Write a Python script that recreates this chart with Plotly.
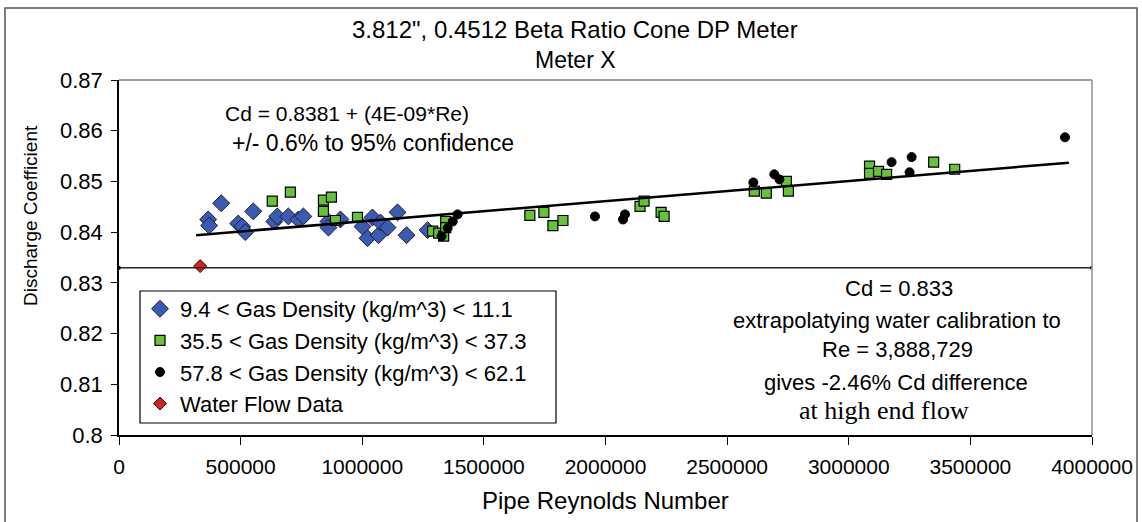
import plotly.graph_objects as go

# ---- data ----
blue_re = [366600, 370700, 420200, 490200, 506700, 519000, 552000, 638500, 650900,
           696200, 737400, 758000, 861000, 861000, 910400, 1001000, 1021600, 1042000,
           1067000, 1075000, 1104000, 1145000, 1182000, 1268800]
blue_cd = [0.8425, 0.8413, 0.8457, 0.8417, 0.8411, 0.8400, 0.8441, 0.8421, 0.8431,
           0.8431, 0.8425, 0.8431, 0.8421, 0.8409, 0.8425, 0.8411, 0.8388, 0.8429,
           0.8394, 0.8419, 0.8409, 0.8439, 0.8394, 0.8404]

green_re = [630000, 704400, 840400, 873300, 840400, 889800, 980400, 1289400, 1314000,
            1334700, 1343000, 1343000, 1689000, 1746700, 1783700, 1825000, 2142000,
            2158600, 2228600, 2241000, 2611800, 2661000, 2743600, 2751800, 3085500,
            3085500, 3122500, 3155500, 3349000, 3435600]
green_cd = [0.8461, 0.8479, 0.8463, 0.8469, 0.8441, 0.8423, 0.8429, 0.8402, 0.8398,
            0.8392, 0.8421, 0.8409, 0.8433, 0.8439, 0.8413, 0.8423, 0.8451,
            0.8461, 0.8439, 0.8431, 0.8481, 0.8477, 0.8500, 0.8481, 0.8530,
            0.8516, 0.8520, 0.8514, 0.8538, 0.8524]

black_re = [1326000, 1351000, 1372000, 1392000, 1956700, 2072000, 2080000, 2607700,
            2694000, 2715000, 3176000, 3258500, 3250000, 3889000]
black_cd = [0.8392, 0.8408, 0.8421, 0.8435, 0.8431, 0.8425, 0.8435, 0.8498,
            0.8514, 0.8504, 0.8538, 0.8548, 0.8518, 0.8587]

water_re = [333700]
water_cd = [0.8333]

trend_re = [317000, 3905000]
trend_cd = [0.8394, 0.8537]

water_line_re = [0, 4000000]
water_line_cd = [0.833, 0.833]

x_ticks = [0, 500000, 1000000, 1500000, 2000000, 2500000, 3000000, 3500000, 4000000]
y_ticks = [0.80, 0.81, 0.82, 0.83, 0.84, 0.85, 0.86, 0.87]
y_tick_text = ["0.8", "0.81", "0.82", "0.83", "0.84", "0.85", "0.86", "0.87"]

series_names = [
    "9.4 < Gas Density (kg/m^3) < 11.1",
    "35.5 < Gas Density (kg/m^3) < 37.3",
    "57.8 < Gas Density (kg/m^3) < 62.1",
    "Water Flow Data",
]

FONT = "Liberation Sans, Arial, sans-serif"
SERIF = "Liberation Serif, Times New Roman, serif"

# plot area in pixels
L, R, T, B = 119, 1092, 80, 435
PW, PH = R - L, B - T


def px(x):
    return (x - L) / PW


def py(y):
    return (B - y) / PH


fig = go.Figure()

fig.add_trace(go.Scatter(
    x=blue_re, y=blue_cd, mode="markers", name=series_names[0], legendgroup="a",
    marker=dict(symbol="diamond", size=13, color="#3A5BB0",
                line=dict(color="#1a1a3a", width=1))))
fig.add_trace(go.Scatter(
    x=green_re, y=green_cd, mode="markers", name=series_names[1], legendgroup="b",
    marker=dict(symbol="square", size=10, color="#66C23A",
                line=dict(color="#000000", width=1.2))))
fig.add_trace(go.Scatter(
    x=black_re, y=black_cd, mode="markers", name=series_names[2], legendgroup="c",
    marker=dict(symbol="circle", size=9, color="#000000",
                line=dict(color="#000000", width=1))))
fig.add_trace(go.Scatter(
    x=water_re, y=water_cd, mode="markers", name=series_names[3], legendgroup="d",
    marker=dict(symbol="diamond", size=10, color="#D42020",
                line=dict(color="#3a0000", width=1))))

fig.add_trace(go.Scatter(
    x=trend_re, y=trend_cd, mode="lines", showlegend=False, hoverinfo="skip",
    line=dict(color="#000000", width=2.5)))
fig.add_trace(go.Scatter(
    x=water_line_re, y=water_line_cd, mode="lines+markers", showlegend=False,
    hoverinfo="skip", line=dict(color="#222222", width=1.5),
    marker=dict(size=4, color="#000000")))

# frame shapes
fig.add_shape(type="rect", xref="paper", yref="paper", x0=px(5), x1=px(1137),
              y0=py(560), y1=py(8), line=dict(color="#555555", width=1.5))
fig.add_shape(type="line", xref="paper", yref="paper", x0=0, x1=1, y0=1, y1=1,
              line=dict(color="#808080", width=1.5))
fig.add_shape(type="line", xref="paper", yref="paper", x0=1, x1=1, y0=0, y1=1,
              line=dict(color="#909090", width=1.5))
# legend box
fig.add_shape(type="rect", xref="paper", yref="paper", x0=px(140), x1=px(556),
              y0=py(423), y1=py(291), fillcolor="white", layer="above",
              line=dict(color="#000000", width=1.2))


def note(text, x, y, size, family=FONT, angle=0):
    return dict(text=text, x=px(x), y=py(y), xref="paper", yref="paper",
                xanchor="center", yanchor="middle", showarrow=False, textangle=angle,
                font=dict(size=size, family=family, color="#000000"))


ann = [
    note("3.812\", 0.4512 Beta Ratio Cone DP Meter", 575, 30, 24),
    note("Meter X", 575, 60, 23),
    note("Cd = 0.8381 + (4E-09*Re)", 347, 113, 21),
    note("+/- 0.6% to 95% confidence", 373, 143, 23),
    note("Cd = 0.833", 899, 288, 22),
    note("extrapolatying water calibration to", 897, 320, 22),
    note("Re = 3,888,729", 897, 349, 22),
    note("gives -2.46% Cd difference", 896, 382, 22),
    note("at high end flow", 884, 410, 26, SERIF),
    note("Discharge Coefficient", 30, 216, 19, angle=-90),
    note("Pipe Reynolds Number", 605, 500, 24),
]

fig.update_layout(
    width=1142, height=522,
    margin=dict(l=L, r=1142 - R, t=T, b=522 - B, autoexpand=False),
    paper_bgcolor="white", plot_bgcolor="white",
    font=dict(family=FONT, size=20, color="#000000"),
    annotations=ann,
    showlegend=True,
    legend=dict(x=px(140), y=py(288), xanchor="left", yanchor="top",
                bgcolor="rgba(0,0,0,0)", borderwidth=0,
                font=dict(size=22, family=FONT), tracegroupgap=0, traceorder="grouped",
                itemwidth=30),
    xaxis=dict(range=[0, 4000000], tickvals=x_ticks, ticktext=[str(v) for v in x_ticks],
               showgrid=False, zeroline=False, showline=True, linecolor="#000000",
               linewidth=1.5, ticks="outside", ticklen=8, tickcolor="#000000",
               tickfont=dict(size=21), ticklabelstandoff=4),
    yaxis=dict(range=[0.80, 0.87], tickvals=y_ticks, ticktext=y_tick_text,
               showgrid=False, zeroline=False, showline=True, linecolor="#000000",
               linewidth=1.5, ticks="outside", ticklen=6, tickcolor="#000000",
               tickfont=dict(size=22), ticklabelstandoff=4),
)

fig.write_html("out.html", config={"displayModeBar": False},
               post_script="document.body.style.margin='0';document.body.style.padding='0';")
